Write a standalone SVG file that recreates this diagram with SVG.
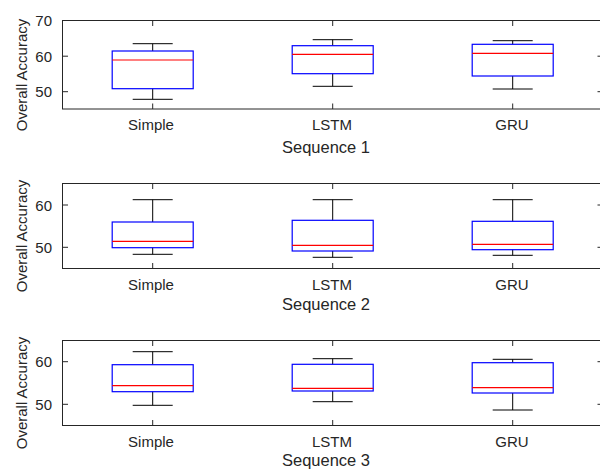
<svg xmlns="http://www.w3.org/2000/svg" width="600" height="471" viewBox="0 0 600 471">
<style>
.ax{fill:none;stroke:#262626;stroke-width:1}
.tk{stroke:#262626;stroke-width:1}
.box{fill:none;stroke:#0000ff;stroke-width:1.2}
.med{stroke:#ff0000;stroke-width:1.2}
.wh{stroke:#000;stroke-width:1}
text{font-family:"Liberation Sans",Arial,sans-serif;fill:#262626}
.tl{font-size:15px}
.yl{font-size:15px;text-anchor:end}
.xl{font-size:15px;text-anchor:middle}
.tt{font-size:16.5px;text-anchor:middle}
</style>
<rect width="600" height="471" fill="#fff"/>

<!-- Panel 1 -->
<g id="panel1">
  <rect class="ax" x="62.5" y="20.5" width="541" height="88.5"/>
  <g class="tk">
    <line x1="152.7" y1="20.5" x2="152.7" y2="26"/><line x1="332.7" y1="20.5" x2="332.7" y2="26"/><line x1="512.7" y1="20.5" x2="512.7" y2="26"/>
    <line x1="152.7" y1="109" x2="152.7" y2="103.5"/><line x1="332.7" y1="109" x2="332.7" y2="103.5"/><line x1="512.7" y1="109" x2="512.7" y2="103.5"/>
    <line x1="62.5" y1="56.2" x2="68" y2="56.2"/><line x1="62.5" y1="91.7" x2="68" y2="91.7"/>
    <line x1="597.5" y1="56.2" x2="603" y2="56.2"/><line x1="597.5" y1="91.7" x2="603" y2="91.7"/>
  </g>
  <text class="yl" x="52" y="26.2">70</text>
  <text class="yl" x="52" y="61.7">60</text>
  <text class="yl" x="52" y="97.2">50</text>
  <text class="xl" x="151" y="130">Simple</text>
  <text class="xl" x="332" y="130">LSTM</text>
  <text class="xl" x="512" y="130">GRU</text>
  <text class="tt" x="326" y="153">Sequence 1</text>
  <text class="tl" text-anchor="middle" transform="translate(26.5,75) rotate(-90)">Overall Accuracy</text>
</g>
<g id="p1-simple">
  <line class="wh" x1="152.7" y1="43.7" x2="152.7" y2="51"/><line class="wh" x1="152.7" y1="88.7" x2="152.7" y2="99.3"/>
  <line class="wh" x1="132.7" y1="43.7" x2="172.7" y2="43.7"/><line class="wh" x1="132.7" y1="99.3" x2="172.7" y2="99.3"/>
  <rect class="box" x="112.2" y="51" width="81" height="37.7"/>
  <line class="med" x1="112.2" y1="60" x2="193.2" y2="60"/>
</g>
<g id="p1-lstm">
  <line class="wh" x1="332.7" y1="39.7" x2="332.7" y2="45.7"/><line class="wh" x1="332.7" y1="73.7" x2="332.7" y2="86.3"/>
  <line class="wh" x1="312.7" y1="39.7" x2="352.7" y2="39.7"/><line class="wh" x1="312.7" y1="86.3" x2="352.7" y2="86.3"/>
  <rect class="box" x="292.2" y="45.7" width="81" height="28"/>
  <line class="med" x1="292.2" y1="54.3" x2="373.2" y2="54.3"/>
</g>
<g id="p1-gru">
  <line class="wh" x1="512.7" y1="40.7" x2="512.7" y2="44.3"/><line class="wh" x1="512.7" y1="76" x2="512.7" y2="89"/>
  <line class="wh" x1="492.7" y1="40.7" x2="532.7" y2="40.7"/><line class="wh" x1="492.7" y1="89" x2="532.7" y2="89"/>
  <rect class="box" x="472.2" y="44.3" width="81" height="31.7"/>
  <line class="med" x1="472.2" y1="53.3" x2="553.2" y2="53.3"/>
</g>

<!-- Panel 2 -->
<g id="panel2">
  <rect class="ax" x="62.5" y="183.5" width="541" height="85"/>
  <g class="tk">
    <line x1="152.7" y1="183.5" x2="152.7" y2="189"/><line x1="332.7" y1="183.5" x2="332.7" y2="189"/><line x1="512.7" y1="183.5" x2="512.7" y2="189"/>
    <line x1="152.7" y1="268.5" x2="152.7" y2="263"/><line x1="332.7" y1="268.5" x2="332.7" y2="263"/><line x1="512.7" y1="268.5" x2="512.7" y2="263"/>
    <line x1="62.5" y1="205" x2="68" y2="205"/><line x1="62.5" y1="247.3" x2="68" y2="247.3"/>
    <line x1="597.5" y1="205" x2="603" y2="205"/><line x1="597.5" y1="247.3" x2="603" y2="247.3"/>
  </g>
  <text class="yl" x="52" y="210.5">60</text>
  <text class="yl" x="52" y="252.8">50</text>
  <text class="xl" x="151" y="289.5">Simple</text>
  <text class="xl" x="332" y="289.5">LSTM</text>
  <text class="xl" x="512" y="289.5">GRU</text>
  <text class="tt" x="326" y="310">Sequence 2</text>
  <text class="tl" text-anchor="middle" transform="translate(26.5,236) rotate(-90)">Overall Accuracy</text>
</g>
<g id="p2-simple">
  <line class="wh" x1="152.7" y1="199.7" x2="152.7" y2="222"/><line class="wh" x1="152.7" y1="247.7" x2="152.7" y2="254.3"/>
  <line class="wh" x1="132.7" y1="199.7" x2="172.7" y2="199.7"/><line class="wh" x1="132.7" y1="254.3" x2="172.7" y2="254.3"/>
  <rect class="box" x="112.2" y="222" width="81" height="25.7"/>
  <line class="med" x1="112.2" y1="241.3" x2="193.2" y2="241.3"/>
</g>
<g id="p2-lstm">
  <line class="wh" x1="332.7" y1="199.7" x2="332.7" y2="220.3"/><line class="wh" x1="332.7" y1="251" x2="332.7" y2="257.3"/>
  <line class="wh" x1="312.7" y1="199.7" x2="352.7" y2="199.7"/><line class="wh" x1="312.7" y1="257.3" x2="352.7" y2="257.3"/>
  <rect class="box" x="292.2" y="220.3" width="81" height="30.7"/>
  <line class="med" x1="292.2" y1="245.3" x2="373.2" y2="245.3"/>
</g>
<g id="p2-gru">
  <line class="wh" x1="512.7" y1="199.7" x2="512.7" y2="221.3"/><line class="wh" x1="512.7" y1="249.7" x2="512.7" y2="255.3"/>
  <line class="wh" x1="492.7" y1="199.7" x2="532.7" y2="199.7"/><line class="wh" x1="492.7" y1="255.3" x2="532.7" y2="255.3"/>
  <rect class="box" x="472.2" y="221.3" width="81" height="28.4"/>
  <line class="med" x1="472.2" y1="244.3" x2="553.2" y2="244.3"/>
</g>

<!-- Panel 3 -->
<g id="panel3">
  <rect class="ax" x="62.5" y="340.5" width="541" height="85"/>
  <g class="tk">
    <line x1="152.7" y1="340.5" x2="152.7" y2="346"/><line x1="332.7" y1="340.5" x2="332.7" y2="346"/><line x1="512.7" y1="340.5" x2="512.7" y2="346"/>
    <line x1="152.7" y1="425.5" x2="152.7" y2="420"/><line x1="332.7" y1="425.5" x2="332.7" y2="420"/><line x1="512.7" y1="425.5" x2="512.7" y2="420"/>
    <line x1="62.5" y1="361.7" x2="68" y2="361.7"/><line x1="62.5" y1="404.3" x2="68" y2="404.3"/>
    <line x1="597.5" y1="361.7" x2="603" y2="361.7"/><line x1="597.5" y1="404.3" x2="603" y2="404.3"/>
  </g>
  <text class="yl" x="52" y="367.2">60</text>
  <text class="yl" x="52" y="409.8">50</text>
  <text class="xl" x="151" y="446.5">Simple</text>
  <text class="xl" x="332" y="446.5">LSTM</text>
  <text class="xl" x="512" y="446.5">GRU</text>
  <text class="tt" x="326" y="466">Sequence 3</text>
  <text class="tl" text-anchor="middle" transform="translate(26.5,393) rotate(-90)">Overall Accuracy</text>
</g>
<g id="p3-simple">
  <line class="wh" x1="152.7" y1="351.7" x2="152.7" y2="364.7"/><line class="wh" x1="152.7" y1="391.7" x2="152.7" y2="405.3"/>
  <line class="wh" x1="132.7" y1="351.7" x2="172.7" y2="351.7"/><line class="wh" x1="132.7" y1="405.3" x2="172.7" y2="405.3"/>
  <rect class="box" x="112.2" y="364.7" width="81" height="27"/>
  <line class="med" x1="112.2" y1="385.7" x2="193.2" y2="385.7"/>
</g>
<g id="p3-lstm">
  <line class="wh" x1="332.7" y1="358.7" x2="332.7" y2="364.3"/><line class="wh" x1="332.7" y1="391" x2="332.7" y2="401.7"/>
  <line class="wh" x1="312.7" y1="358.7" x2="352.7" y2="358.7"/><line class="wh" x1="312.7" y1="401.7" x2="352.7" y2="401.7"/>
  <rect class="box" x="292.2" y="364.3" width="81" height="26.7"/>
  <line class="med" x1="292.2" y1="388.3" x2="373.2" y2="388.3"/>
</g>
<g id="p3-gru">
  <line class="wh" x1="512.7" y1="359.3" x2="512.7" y2="362.7"/><line class="wh" x1="512.7" y1="393" x2="512.7" y2="410"/>
  <line class="wh" x1="492.7" y1="359.3" x2="532.7" y2="359.3"/><line class="wh" x1="492.7" y1="410" x2="532.7" y2="410"/>
  <rect class="box" x="472.2" y="362.7" width="81" height="30.3"/>
  <line class="med" x1="472.2" y1="387.7" x2="553.2" y2="387.7"/>
</g>
</svg>
